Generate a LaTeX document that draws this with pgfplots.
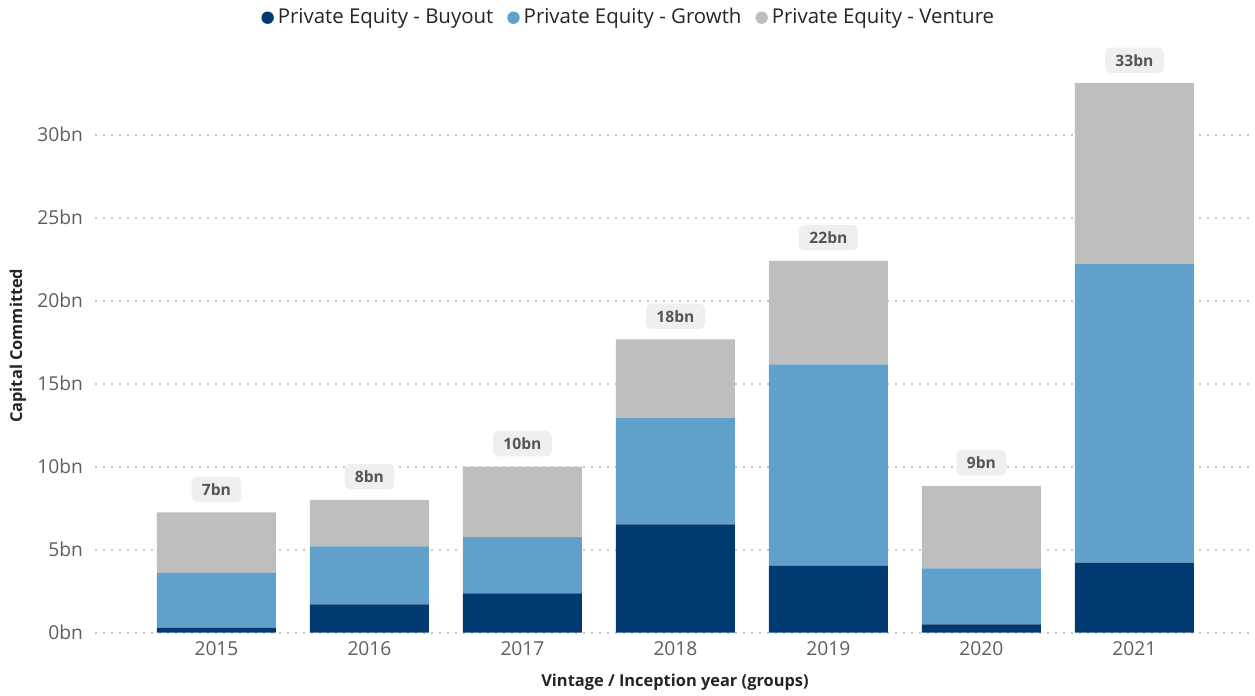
\documentclass[border=0pt]{standalone}
\usepackage{fontspec}
\setmainfont{Open Sans}
\usepackage{pgfplots}
\pgfplotsset{compat=1.18}

\definecolor{buyout}{HTML}{003A70}
\definecolor{growth}{HTML}{62A0CC}
\definecolor{venture}{HTML}{BEBEBE}
\definecolor{ticktext}{HTML}{605E5C}
\definecolor{labeltext}{HTML}{252423}
\definecolor{boxfill}{HTML}{EFEFEF}
\definecolor{boxtext}{HTML}{555555}
\definecolor{gridc}{HTML}{C8C8C8}

\pgfplotsset{
  frame/.style={
    scale only axis,
    width=580pt, height=290.5pt,
    xmin=-0.794, xmax=6.788,
    ymin=0, ymax=35,
  },
}

\begin{document}
\begin{tikzpicture}
% 1 px of the reference = 0.5pt
\useasboundingbox (-47.5pt,-31.65pt) rectangle (580pt,316.35pt);
\begin{axis}[
  frame,
  ybar stacked,
  bar width=59.5pt,
  xtick={0,...,6},
  xticklabels={2015,2016,2017,2018,2019,2020,2021},
  ytick={0,5,...,30},
  yticklabel={\pgfmathparse{int(\tick)}\pgfmathresult bn},
  major tick length=0pt,
  axis line style={draw=none},
  ymajorgrids,
  major grid style={gridc, line width=0.9pt, dash pattern=on 0.9pt off 3.1pt},
  ticklabel style={font=\fontsize{9.6}{11}\selectfont, text=ticktext},
  xticklabel style={yshift=-1pt},
  yticklabel style={xshift=-2.5pt},
  xlabel={Vintage / Inception year (groups)},
  ylabel={Capital Committed},
  label style={font=\bfseries\fontsize{8.2}{10}\selectfont, text=labeltext},
  xlabel style={at={(axis description cs:0.5,-0.086)}, anchor=center},
  ylabel style={at={(axis description cs:-0.0664,0.494)}, anchor=center, rotate=0},
  legend columns=3,
  legend style={at={(0.461,1.0585)}, anchor=center, draw=none, fill=none,
    font=\fontsize{10.2}{11}\selectfont, text=labeltext,
    /tikz/every even column/.append style={column sep=5pt}},
  legend image code/.code={\fill[#1] (1.5pt,0pt) circle (3.1pt);},
  legend cell align=left,
]
\addplot[fill=buyout, draw=none] coordinates {
  (0,0.30) (1,1.70) (2,2.37) (3,6.53) (4,4.04) (5,0.50) (6,4.22)};
\addplot[fill=growth, draw=none] coordinates {
  (0,3.30) (1,3.50) (2,3.38) (3,6.39) (4,12.13) (5,3.38) (6,17.98)};
\addplot[fill=venture, draw=none] coordinates {
  (0,3.65) (1,2.80) (2,4.25) (3,4.75) (4,6.23) (5,4.96) (6,10.90)};
\legend{Private Equity - Buyout, Private Equity - Growth, Private Equity - Venture}
\end{axis}
% overlay axis with the totals as labels above each stack
\begin{axis}[
  frame,
  hide axis,
]
\addplot[draw=none, mark=none,
  point meta=explicit symbolic,
  nodes near coords,
  every node near coord/.append style={anchor=south, yshift=5pt,
    fill=boxfill, rounded corners=2.5pt, inner xsep=5.2pt,
    minimum height=12pt, text=boxtext,
    font=\bfseries\fontsize{7.8}{9}\selectfont}] coordinates {
  (0,7.25) [7bn] (1,8.00) [8bn] (2,10.00) [10bn] (3,17.67) [18bn]
  (4,22.40) [22bn] (5,8.84) [9bn] (6,33.10) [33bn]};
\end{axis}
\end{tikzpicture}
\end{document}
